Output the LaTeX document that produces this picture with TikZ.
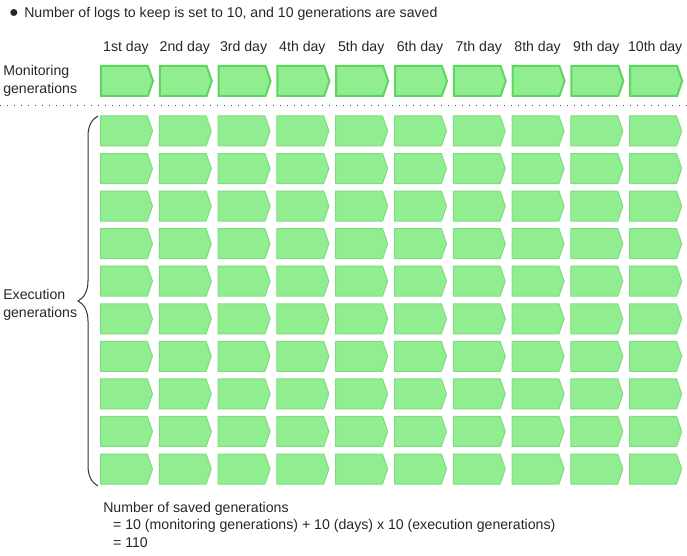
\documentclass[tikz,border=0pt]{standalone}
\usepackage{fontspec}
\setmainfont{Liberation Sans}
\usetikzlibrary{shapes.symbols,decorations.pathreplacing}
\definecolor{genfill}{HTML}{90EE90}
\definecolor{execline}{HTML}{80DC80}
\definecolor{monline}{HTML}{5ED65E}
\tikzset{
  gen/.style={signal, signal to=east, signal pointer angle=142, fill=genfill,
    draw=execline, line width=0.75pt, minimum width=39pt, minimum height=22.5pt,
    inner sep=0pt, anchor=west},
  mongen/.style={gen, draw=monline, line width=1.5pt},
  txt/.style={font=\fontsize{10.6}{13}\selectfont, inner sep=0pt, text=black!85}
}
\begin{document}
\begin{tikzpicture}[x=0.75pt, y=-0.75pt]
		\useasboundingbox (0,0) rectangle (687,556);
		\node[txt, font=\fontsize{12}{13}\selectfont] (bullet) at (14,14) {●};
		\node[txt, anchor=west] (title) at (24,14) {Number of logs to keep is set to 10, and 10 generations are saved};
		% days and monitoring generations
		\foreach \d/\name in {1/1st,2/2nd,3/3rd,4/4th,5/5th,6/6th,7/7th,8/8th,9/9th,10/10th} {
			\node[txt] (day\d) at ({126+58.8*(\d-1)},48) {\name{} day};
			\node[mongen] (mon\d) at ({100+58.8*(\d-1)},81) {};
		}
		\node[txt, anchor=west, align=left] (monlabel) at (3,81) {Monitoring\\generations};
		\draw[black!70, line width=0.75pt, dash pattern=on 0.75pt off 4.5pt] (0,106) -- (687,106);
		% execution generations
		\foreach \d in {1,...,10} {
			\foreach \g in {1,...,10} {
				\node[gen] (exec\d-\g) at ({100+58.8*(\d-1)},{131+37.56*(\g-1)}) {};
			}
		}
		\draw[black!80, line width=0.75pt, decorate, decoration={brace, amplitude=15pt}]
			(98,486) -- (98,116);
		\node[txt, anchor=west, align=left] (execlabel) at (3,305) {Execution\\generations};
		% total
		\node[txt, anchor=north west, align=left] (total) at (103,502) {Number of saved generations\\
			\hspace{2.6mm}= 10 (monitoring generations) + 10 (days) x 10 (execution generations)\\
			\hspace{2.6mm}= 110};
		\end{tikzpicture}
\end{document}
